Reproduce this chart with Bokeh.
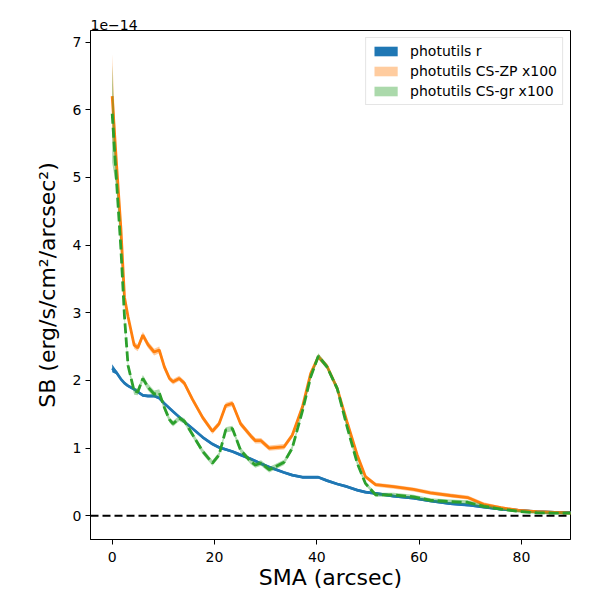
from bokeh.plotting import figure
from bokeh.models import Range1d, Span, Legend, LegendItem, FixedTicker, ColumnDataSource
from bokeh.embed import file_html
from bokeh.resources import INLINE

# SMA (arcsec)
sma = [0.0, 0.8, 1.7, 2.4, 3.1, 4.3, 5.0, 6.0, 7.0, 8.2,
       9.2, 10.2, 11.2, 11.9, 13.1, 14.1, 15.7, 17.7, 19.6, 20.9,
       22.2, 23.5, 25.1, 27.1, 28.0, 29.1, 30.7, 33.6, 35.2, 37.2,
       38.8, 40.3, 42.0, 44.0, 45.9, 47.9, 49.5, 51.5, 55.0, 58.9,
       62.2, 66.1, 69.5, 72.6, 76.0, 79.5, 83.0, 86.5, 90.0]

# surface brightness in units of 1e-14 erg/s/cm^2/arcsec^2
sb_r = [2.18, 2.12, 2.02, 1.96, 1.92, 1.87, 1.83, 1.78, 1.77, 1.77,
        1.74, 1.66, 1.59, 1.54, 1.46, 1.39, 1.29, 1.16, 1.06, 1.01,
        0.98, 0.95, 0.90, 0.84, 0.81, 0.77, 0.72, 0.64, 0.60, 0.57,
        0.57, 0.57, 0.52, 0.47, 0.43, 0.38, 0.35, 0.33, 0.29, 0.26,
        0.22, 0.18, 0.16, 0.13, 0.10, 0.08, 0.06, 0.05, 0.05]
err_r = [0.06, 0.03, 0.02, 0.02, 0.02, 0.02, 0.02, 0.02, 0.02, 0.02,
         0.02, 0.02, 0.02, 0.02, 0.02, 0.02, 0.02, 0.02, 0.02, 0.02,
         0.02, 0.02, 0.02, 0.02, 0.02, 0.02, 0.02, 0.02, 0.02, 0.02,
         0.02, 0.02, 0.02, 0.02, 0.02, 0.02, 0.02, 0.02, 0.02, 0.02,
         0.02, 0.02, 0.02, 0.02, 0.02, 0.02, 0.02, 0.02, 0.02]

sb_zp = [6.20, 5.25, 4.25, 3.23, 2.94, 2.52, 2.48, 2.67, 2.53, 2.42,
         2.45, 2.20, 2.03, 1.98, 2.03, 1.96, 1.72, 1.45, 1.25, 1.36,
         1.63, 1.66, 1.36, 1.18, 1.11, 1.11, 1.00, 1.02, 1.19, 1.61,
         2.10, 2.35, 2.21, 1.88, 1.39, 0.90, 0.58, 0.46, 0.43, 0.39,
         0.34, 0.30, 0.27, 0.17, 0.12, 0.08, 0.06, 0.05, 0.04]
err_zp = [0.62, 0.12, 0.07, 0.06, 0.05, 0.05, 0.05, 0.05, 0.05, 0.05,
          0.05, 0.05, 0.04, 0.04, 0.04, 0.04, 0.04, 0.04, 0.04, 0.04,
          0.04, 0.04, 0.04, 0.04, 0.04, 0.04, 0.04, 0.04, 0.04, 0.04,
          0.04, 0.04, 0.04, 0.04, 0.04, 0.04, 0.03, 0.03, 0.03, 0.03,
          0.03, 0.03, 0.03, 0.03, 0.02, 0.02, 0.02, 0.02, 0.02]

sb_gr = [5.94, 5.00, 3.95, 2.95, 2.22, 1.84, 1.83, 2.03, 1.90, 1.80,
         1.82, 1.60, 1.42, 1.36, 1.44, 1.40, 1.20, 0.95, 0.78, 0.90,
         1.27, 1.29, 0.97, 0.80, 0.75, 0.78, 0.68, 0.79, 1.00, 1.55,
         2.05, 2.36, 2.20, 1.88, 1.32, 0.78, 0.48, 0.31, 0.31, 0.28,
         0.23, 0.21, 0.20, 0.14, 0.10, 0.065, 0.045, 0.04, 0.04]
err_gr = [0.72, 0.15, 0.08, 0.06, 0.05, 0.05, 0.05, 0.05, 0.05, 0.05,
          0.05, 0.05, 0.04, 0.04, 0.04, 0.04, 0.04, 0.04, 0.04, 0.04,
          0.04, 0.04, 0.04, 0.04, 0.04, 0.04, 0.04, 0.04, 0.04, 0.04,
          0.04, 0.04, 0.04, 0.04, 0.04, 0.04, 0.03, 0.03, 0.03, 0.03,
          0.03, 0.03, 0.03, 0.03, 0.02, 0.02, 0.02, 0.02, 0.02]

x_ticks = [0, 20, 40, 60, 80]
y_ticks = [0, 1, 2, 3, 4, 5, 6, 7]
labels = ["photutils r", "photutils CS-ZP x100", "photutils CS-gr x100"]
scale_text = "1e−14"

FONT = "DejaVu Sans"
BLUE, ORANGE, GREEN = "#1f77b4", "#ff7f0e", "#2ca02c"

src = ColumnDataSource(dict(
    x=sma,
    r=sb_r, r_lo=[v - e for v, e in zip(sb_r, err_r)], r_hi=[v + e for v, e in zip(sb_r, err_r)],
    zp=sb_zp, zp_lo=[v - e for v, e in zip(sb_zp, err_zp)], zp_hi=[v + e for v, e in zip(sb_zp, err_zp)],
    gr=sb_gr, gr_lo=[v - e for v, e in zip(sb_gr, err_gr)], gr_hi=[v + e for v, e in zip(sb_gr, err_gr)],
))

p = figure(width=592, height=592, output_backend="svg", toolbar_location=None,
           x_range=Range1d(-4.24, 89.6), y_range=Range1d(-0.35, 7.17),
           min_border_left=90, min_border_right=22, min_border_top=30, min_border_bottom=52,
           title=scale_text)

p.title.align = "left"
p.title.text_font = FONT
p.title.text_font_size = "14px"
p.title.text_font_style = "normal"
p.title.text_color = "black"
p.title.standoff = 2
p.title.offset = 0

p.grid.visible = False
p.outline_line_color = "black"
p.outline_line_width = 1
p.background_fill_color = "white"

p.xaxis.ticker = FixedTicker(ticks=x_ticks)
p.yaxis.ticker = FixedTicker(ticks=y_ticks)
for ax in (p.xaxis[0], p.yaxis[0]):
    ax.major_tick_out = 5
    ax.major_tick_in = 0
    ax.minor_tick_out = 0
    ax.minor_tick_in = 0
    ax.axis_line_color = "black"
    ax.major_tick_line_color = "black"
    ax.major_label_text_font = FONT
    ax.major_label_text_font_size = "14px"
    ax.major_label_text_color = "black"
    ax.axis_label_text_font = FONT
    ax.axis_label_text_font_size = "22px"
    ax.axis_label_text_font_style = "normal"
    ax.axis_label_text_color = "black"
p.xaxis.major_label_standoff = 7
p.yaxis.major_label_standoff = 4
p.xaxis.axis_label_standoff = 0
p.yaxis.axis_label_standoff = 10
p.xaxis.axis_label = "SMA (arcsec)"
p.yaxis.axis_label = "SB (erg/s/cm²/arcsec²)"

p.add_layout(Span(location=0, dimension="width", line_color="black",
                  line_width=2, line_dash="8 4"))

band_r = p.varea(x="x", y1="r_lo", y2="r_hi", source=src, fill_color=BLUE, fill_alpha=1.0)
p.line(x="x", y="r", source=src, line_color=BLUE, line_width=2.8)
band_zp = p.varea(x="x", y1="zp_lo", y2="zp_hi", source=src, fill_color=ORANGE, fill_alpha=0.4)
p.line(x="x", y="zp", source=src, line_color=ORANGE, line_width=2.8)
band_gr = p.varea(x="x", y1="gr_lo", y2="gr_hi", source=src, fill_color=GREEN, fill_alpha=0.4)
p.line(x="x", y="gr", source=src, line_color=GREEN, line_width=2.8, line_dash="10 4")

legend = Legend(items=[LegendItem(label=labels[0], renderers=[band_r]),
                       LegendItem(label=labels[1], renderers=[band_zp]),
                       LegendItem(label=labels[2], renderers=[band_gr])],
                location="top_right")
legend.border_line_color = "#cccccc"
legend.border_line_width = 1
legend.background_fill_alpha = 0.8
legend.glyph_width = 29
legend.glyph_height = 12
legend.label_standoff = 10
legend.padding = 5
legend.spacing = 4
legend.margin = 7
legend.label_height = 15
legend.label_text_font = FONT
legend.label_text_font_size = "14px"
legend.label_text_color = "black"
p.add_layout(legend)

open("out.html", "w").write(file_html(p, INLINE))
